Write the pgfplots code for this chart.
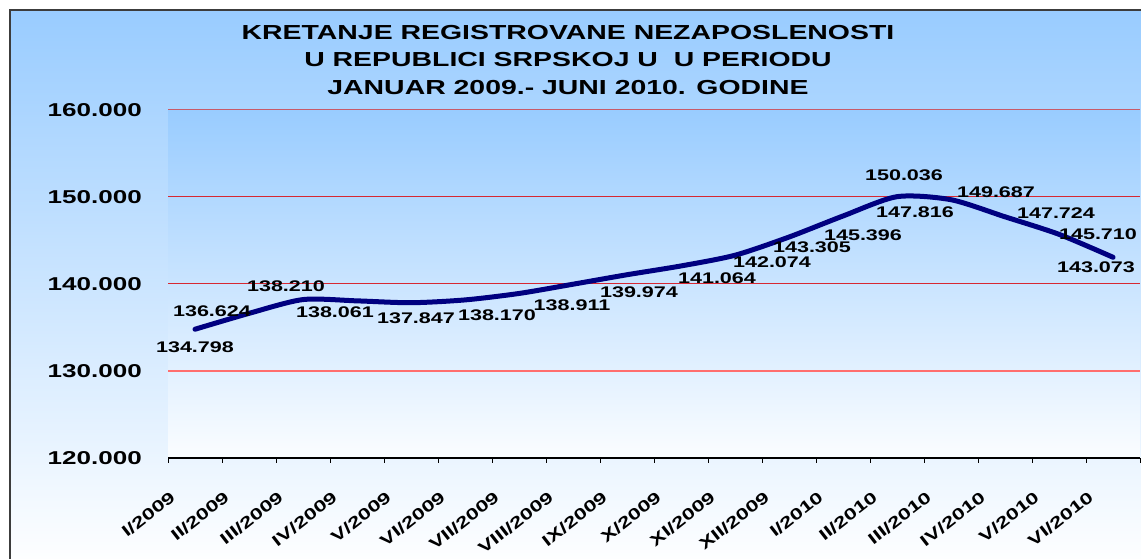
\documentclass[border=0pt]{standalone}
\usepackage{pgfplots}
\usepackage{pgfplotstable}
\pgfplotsset{compat=1.18}
\usepackage{fontspec}
\setmainfont{Liberation Sans}[FakeStretch=1.4]
\definecolor{bgtop}{RGB}{153,204,255}
\definecolor{navyline}{RGB}{0,0,128}
\definecolor{gridred}{RGB}{215,40,50}
\definecolor{gridtop}{RGB}{200,90,105}
\definecolor{salmon}{RGB}{255,110,110}
\definecolor{framegray}{RGB}{60,60,60}

\pgfplotstableread{
x y lbl dx dy
0.5 134.798 134.798 0 -18
1.5 136.624 136.624 -37 2
2.5 138.210 138.210 -17 13
3.5 138.061 138.061 -22 -11
4.5 137.847 137.847 5 -15
5.5 138.170 138.170 32 -15
6.5 138.911 138.911 53 -12
7.5 139.974 139.974 66 -8
8.5 141.064 141.064 90 -3
9.5 142.074 142.074 91 4
10.5 143.305 143.305 77 8
11.5 145.396 145.396 74 2
12.5 147.816 147.816 72 4
13.5 150.036 150.036 7 21
14.5 149.687 149.687 45 8
15.5 147.724 147.724 51 4
16.5 145.710 145.710 39 0
17.5 143.073 143.073 -17 -10
}\datatable

\begin{document}
\begin{tikzpicture}[x=1pt,y=1pt]
\useasboundingbox (0,0) rectangle (1141,559);
\clip (0,0) rectangle (1141,559);
\fill[white] (0,0) rectangle (1141,559);
\shade[top color=bgtop, bottom color=white] (10,-10) rectangle (1170,549);
\draw[line width=2pt, framegray] (10,-10) -- (10,549) -- (1170,549);
\node[font=\bfseries\fontsize{20.3}{27.5}\selectfont, align=center, inner sep=0pt] at (568,499)
  {KRETANJE REGISTROVANE NEZAPOSLENOSTI\\U REPUBLICI SRPSKOJ U\ \ U PERIODU\\JANUAR 2009.- JUNI 2010. GODINE};
\begin{axis}[
  at={(168pt,101pt)}, anchor=south west,
  scale only axis, width=972pt, height=348pt,
  xmin=0, xmax=18, ymin=120, ymax=160,
  clip=false,
  axis background/.style={shade, top color=bgtop, bottom color=white!96!bgtop},
  axis x line*=bottom, axis y line*=left,
  y axis line style={draw=none},
  x axis line style={black, line width=1.5pt},
  ytick={120,130,140,150,160},
  yticklabels={120.000,130.000,140.000,150.000,160.000},
  ytick style={draw=none},
  yticklabel style={font=\bfseries\fontsize{18.6}{20}\selectfont, inner sep=0pt, xshift=-21pt},
  ymajorgrids,
  grid style={gridred, line width=1pt},
  xtick={0,...,18},
  xticklabels={I/2009,II/2009,III/2009,IV/2009,V/2009,VI/2009,VII/2009,VIII/2009,IX/2009,X/2009,XI/2009,XII/2009,I/2010,II/2010,III/2010,IV/2010,V/2010,VI/2010,},
  tick align=outside,
  major tick length=5pt,
  xtick style={black, line width=1pt},
  xticklabel style={font=\bfseries\fontsize{16}{18}\selectfont, inner sep=0pt, xshift=5pt, yshift=-32pt, rotate=38, anchor=east},
]
\draw[gridtop, line width=1pt] (axis cs:0,160) -- (axis cs:18,160);
\draw[salmon, line width=2pt] (axis cs:0,130) -- (axis cs:18,130);
\addplot[navyline, line width=5pt, smooth, tension=0.45, line cap=round,
  point meta=explicit symbolic,
  visualization depends on={\thisrow{dx} \as \dx},
  visualization depends on={\thisrow{dy} \as \dy},
  nodes near coords,
  every node near coord/.append style={font=\bfseries\fontsize{15.4}{17}\selectfont, anchor=center, inner sep=0pt, xshift=\dx, yshift=\dy, text=black},
] table[x=x, y=y, meta=lbl] {\datatable};
\end{axis}
\end{tikzpicture}
\end{document}
